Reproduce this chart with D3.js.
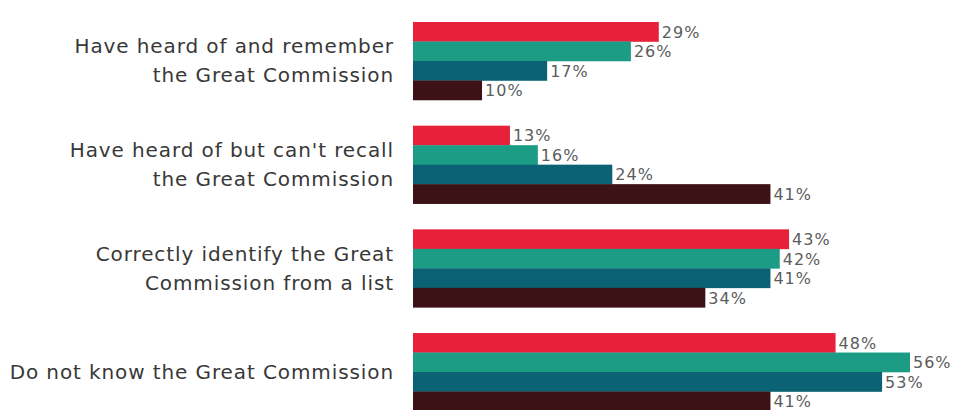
<!DOCTYPE html>
<html>
<head>
<meta charset="utf-8">
<script src="https://cdn.jsdelivr.net/npm/d3@7"></script>
<style>
  body { margin: 0; background: #fff; }
  .cat { font-family: "DejaVu Sans", sans-serif; font-size: 20px; letter-spacing: 0.9px; fill: #383838; }
  .val { font-family: "DejaVu Sans", sans-serif; font-size: 16px; letter-spacing: 1px; fill: #5c5c5c; }
</style>
</head>
<body>
<svg id="chart" width="956" height="410"></svg>
<script>

var categories = [
	"Have heard of and remember|the Great Commission",
	"Have heard of but can't recall|the Great Commission",
	"Correctly identify the Great|Commission from a list",
	"Do not know the Great Commission"
];
var seriesNames = ["Group 1", "Group 2", "Group 3", "Group 4"];
var seriesColors = ["#e8213a", "#1c9c85", "#0a6274", "#3d1216"];

var valuesGroup1 = [29, 13, 43, 48];
var valuesGroup2 = [26, 16, 42, 56];
var valuesGroup3 = [17, 24, 41, 53];
var valuesGroup4 = [10, 41, 34, 41];

var seriesValues = [valuesGroup1, valuesGroup2, valuesGroup3, valuesGroup4];

// one row per bar
var rows = [];
categories.forEach(function(c, i){
	seriesNames.forEach(function(s, j){
		rows.push({cat: c, series: s, idx: j, value: seriesValues[j][i]});
	});
});

var svg = d3.select("#chart");

// bars begin a little above zero in the original, so the domain starts there
var x = d3.scaleLinear().domain([2.58, 56]).range([413, 910]);
var y = d3.scaleBand().domain(categories).range([22, 411]).paddingInner(0.248).paddingOuter(0);
var yInner = d3.scaleBand().domain(seriesNames).range([0, y.bandwidth()]);
var color = d3.scaleOrdinal().domain(seriesNames).range(seriesColors);

var groups = svg.selectAll("g.group")
	.data(categories)
	.enter()
	.append("g")
	.attr("class", "group")
	.attr("transform", function(d){ return "translate(0," + y(d) + ")"; });

groups.selectAll("rect")
	.data(function(c){ return rows.filter(function(r){ return r.cat === c; }); })
	.enter()
	.append("rect")
	.attr("x", x.range()[0])
	.attr("y", function(d){ return yInner(d.series); })
	.attr("width", function(d){ return x(d.value) - x.range()[0]; })
	.attr("height", yInner.bandwidth() + 0.3)
	.attr("fill", function(d){ return color(d.series); });

groups.selectAll("text.val")
	.data(function(c){ return rows.filter(function(r){ return r.cat === c; }); })
	.enter()
	.append("text")
	.attr("class", "val")
	.attr("x", function(d){ return x(d.value) + 3; })
	.attr("y", function(d){ return yInner(d.series) + yInner.bandwidth() / 2; })
	.attr("dy", "0.38em")
	.text(function(d){ return d.value + "%"; });

// category labels, split on "|"
groups.append("text")
	.attr("class", "cat")
	.attr("text-anchor", "end")
	.attr("x", 393)
	.each(function(c){
		var lines = c.split("|");
		var t = d3.select(this);
		var mid = y.bandwidth() / 2;
		var lh = 29;
		lines.forEach(function(line, k){
			t.append("tspan")
				.attr("x", 394)
				.attr("y", mid + (k - (lines.length - 1) / 2) * lh)
				.attr("dy", "0.35em")
				.text(line);
		});
	});

</script>
</body>
</html>
